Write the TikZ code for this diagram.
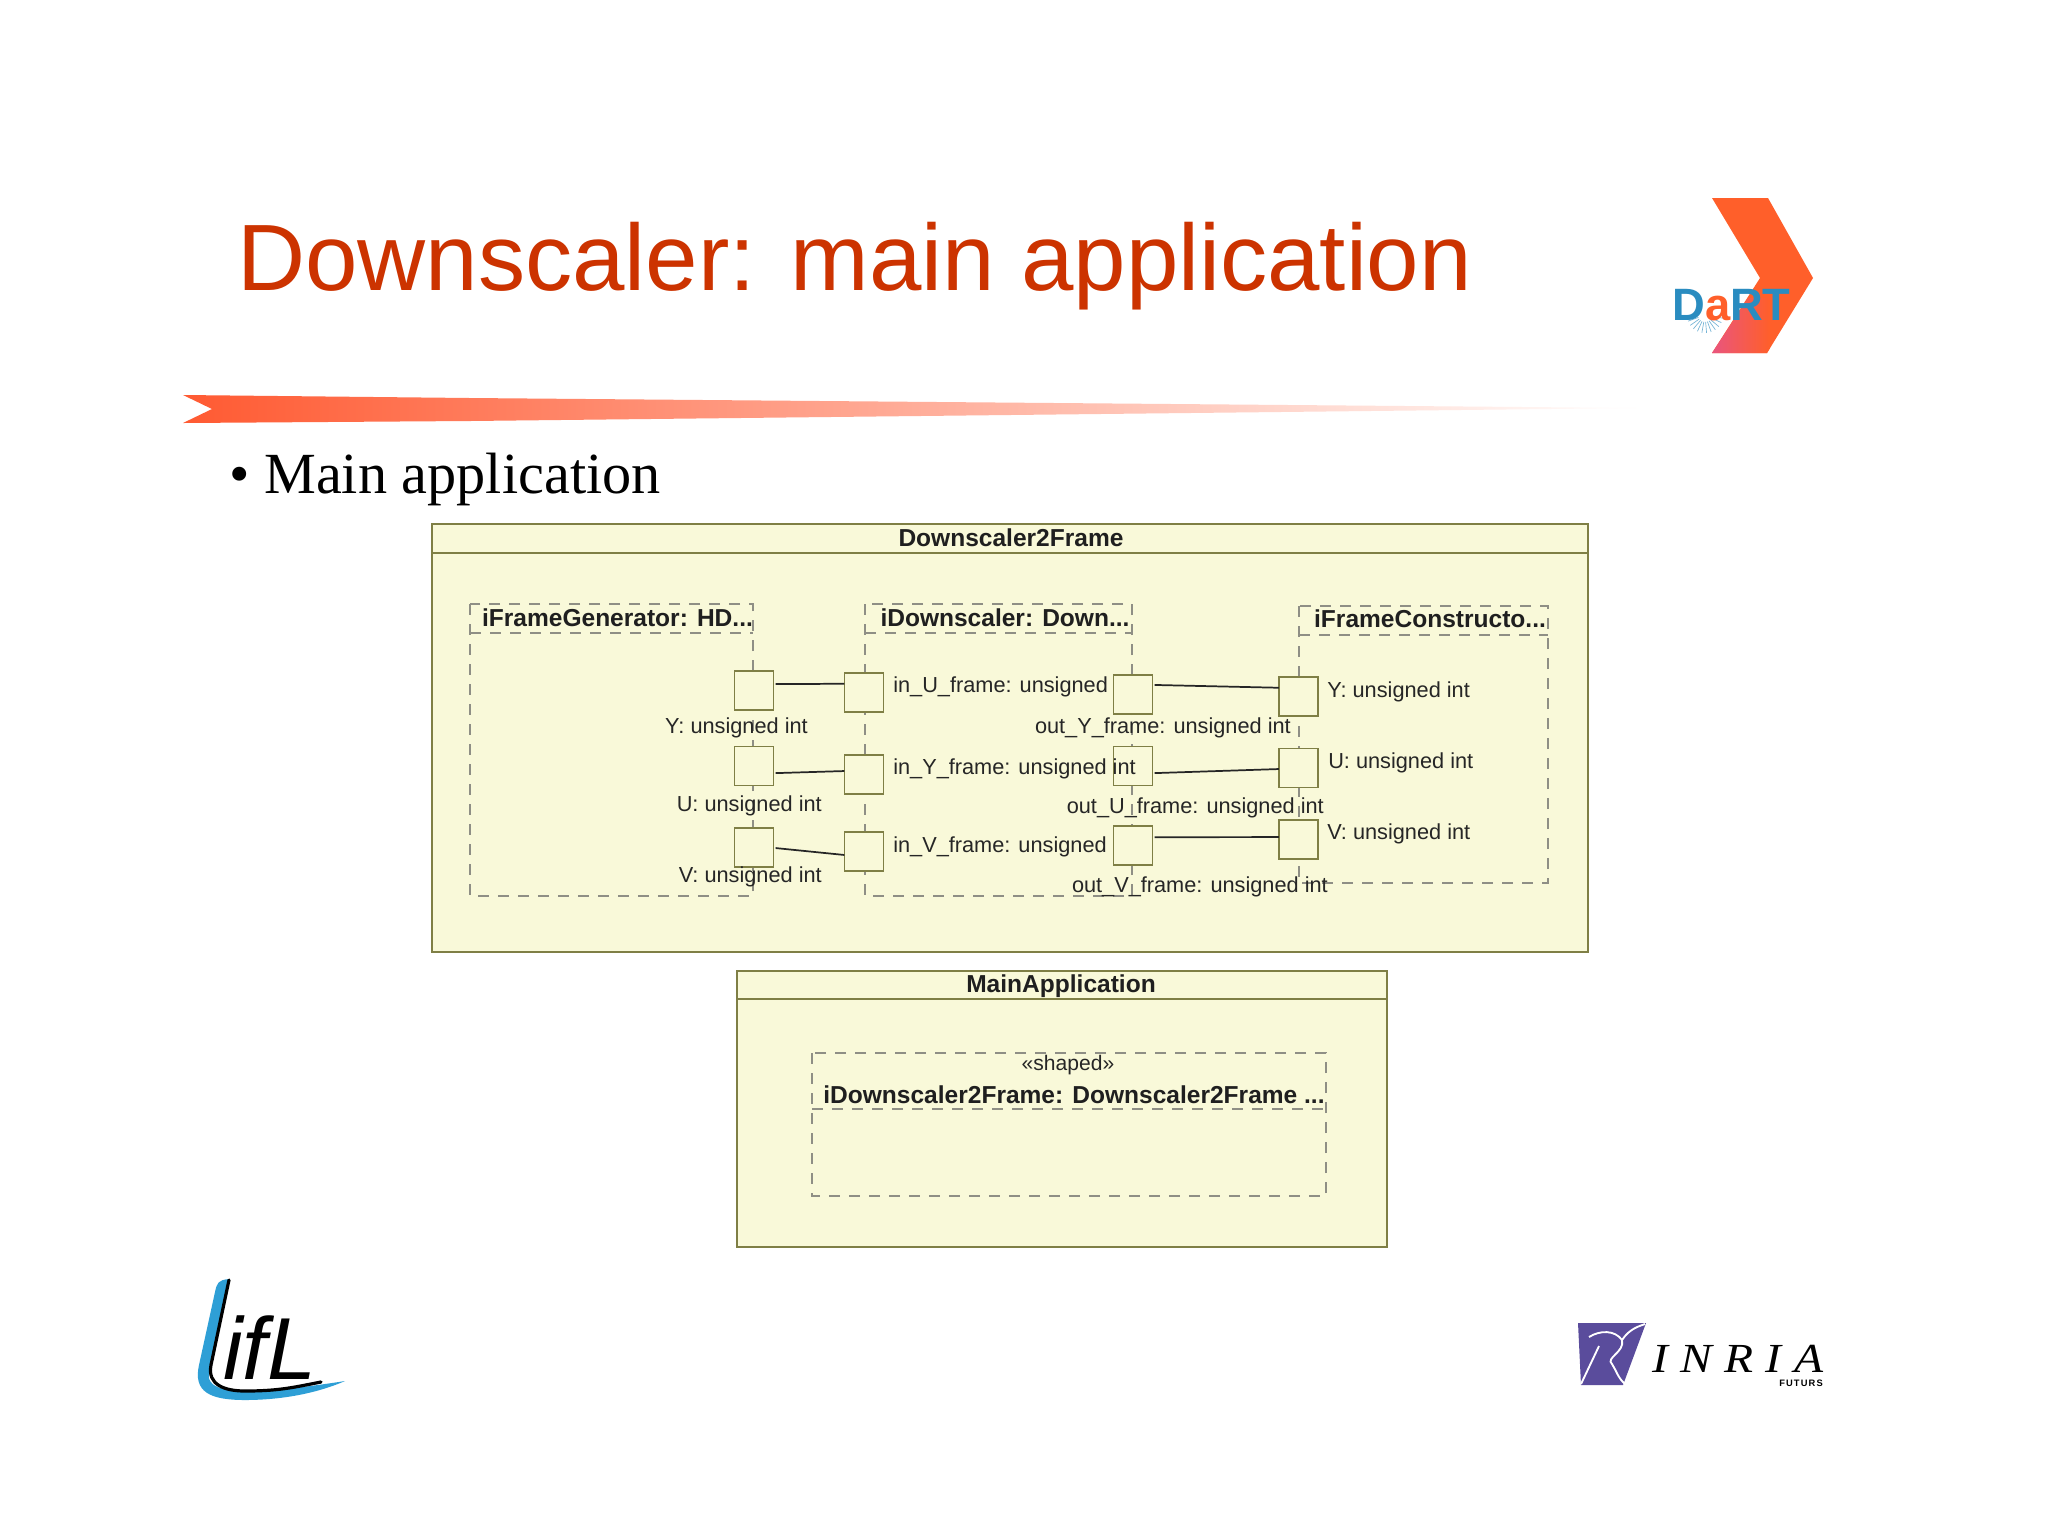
\documentclass[tikz,border=0pt]{standalone}
\usepackage{fontspec}
\setmainfont{Liberation Sans}
\newfontfamily\serifface{Liberation Serif}
\newfontfamily\inriaface[LetterSpace=26]{Liberation Serif}
\newfontfamily\futursface[LetterSpace=12]{Liberation Sans}
\usetikzlibrary{calc}
\definecolor{umlfill}{HTML}{F9F9D9}
\definecolor{umlline}{HTML}{7F7F45}
\definecolor{dashgrey}{HTML}{8F8F85}
\definecolor{titlered}{HTML}{CC3300}
\definecolor{swoosh}{HTML}{FF5A32}
\definecolor{dartblue}{HTML}{2A8CC0}
\definecolor{dartorange}{HTML}{FF5F2A}
\definecolor{dartpink}{HTML}{E9557F}
\definecolor{liflblue}{HTML}{2E9FD6}
\definecolor{inriapurple}{HTML}{5A4C9C}
\tikzset{
  umlbox/.style={draw=umlline,fill=umlfill,line width=1.7pt},
  umlrule/.style={draw=umlline,line width=1.3pt},
  partbox/.style={draw=dashgrey,line width=0.9pt,dash pattern=on 8pt off 7pt},
  portbox/.style={draw=umlline,fill=umlfill,line width=1.2pt,minimum width=29.5pt,minimum height=29.5pt,inner sep=0pt,outer sep=0pt},
  wire/.style={draw=black!85,line width=1.3pt,shorten <=1.5pt},
  portlabel/.style={font=\fontsize{16.3pt}{18pt}\selectfont,text=black!85,inner sep=0pt},
  boldlabel/.style={font=\fontsize{18.4pt}{20pt}\selectfont\bfseries,text=black!88,inner sep=0pt},
}
\begin{document}
\begin{tikzpicture}[x=0.75pt,y=-0.75pt]
\useasboundingbox (0,0) rectangle (2048,1536);
\fill[white] (0,0) rectangle (2048,1536);

% title
\node[anchor=base west,inner sep=0pt,text=titlered,font=\fontsize{70.7pt}{78pt}\selectfont] (title) at (237,290) {Downscaler: main application};
% swoosh bar
\shade[left color=swoosh,right color=white,middle color=swoosh!50] (183,395) -- (470,398) -- (1640,408) -- (470,421) -- (183,423) -- (212,409) -- cycle;
% bullet
\node[anchor=base west,inner sep=0pt,font=\fontsize{43.7pt}{50pt}\selectfont\serifface,text=black] (bullet) at (229,493) {• Main application};

% Downscaler2Frame
\draw[umlbox] (432,524) rectangle (1588,952);
\draw[umlrule] (432,553) -- (1588,553);
\node[boldlabel] (dfTitle) at (1011,537.5) {Downscaler2Frame};

% parts
\draw[partbox] (470,604) rectangle (753,896);
\draw[partbox] (470,633) -- (753,633);
\draw[partbox] (865,604) rectangle (1132,896);
\draw[partbox] (865,633) -- (1132,633);
\draw[partbox] (1299,606) rectangle (1548,883);
\draw[partbox] (1299,635) -- (1548,635);
\node[boldlabel] (genTitle) at (617.5,617.5) {iFrameGenerator: HD...};
\node[boldlabel] (downTitle) at (1005,617.5) {iDownscaler: Down...};
\node[boldlabel] (conTitle) at (1430,619) {iFrameConstructo...};

% ports
\node[portbox] (gy) at (754,690.5) {};
\node[portbox] (gu) at (754,766) {};
\node[portbox] (gv) at (754,847.5) {};
\node[portbox] (diu) at (864,692.5) {};
\node[portbox] (diy) at (864,774.5) {};
\node[portbox] (div) at (864,851.5) {};
\node[portbox] (doy) at (1133,694.5) {};
\node[portbox] (dou) at (1133,766) {};
\node[portbox] (dov) at (1133,845.5) {};
\node[portbox] (cy) at (1298.5,696.5) {};
\node[portbox] (cu) at (1298.5,768) {};
\node[portbox] (cv) at (1298.5,839.5) {};

% connectors
\draw[wire] (gy.18) -- (diu.156.5);
\draw[wire] (gu.-20) -- (diy.170);
\draw[wire] (gv.-1) -- (div.190);
\draw[wire] (doy.26) -- (cy.156.5);
\draw[wire] (dou.-20) -- (cu.183);
\draw[wire] (dov.23.5) -- (cv.173);

% port labels
\node[portlabel,anchor=east] (lgy) at (808,727.5) {Y: unsigned int};
\node[portlabel,anchor=east] (lgu) at (822,805.5) {U: unsigned int};
\node[portlabel,anchor=east] (lgv) at (822,876.5) {V: unsigned int};
\node[portlabel,anchor=west] (ldiu) at (893,686.5) {in\_U\_frame: unsigned};
\node[portlabel,anchor=west] (ldiy) at (893,768.5) {in\_Y\_frame: unsigned int};
\node[portlabel,anchor=west] (ldiv) at (893,846.5) {in\_V\_frame: unsigned};
\node[portlabel,anchor=east] (ldoy) at (1291,727.5) {out\_Y\_frame: unsigned int};
\node[portlabel,anchor=east] (ldou) at (1324,807.5) {out\_U\_frame: unsigned int};
\node[portlabel,anchor=east] (ldov) at (1328,886.5) {out\_V\_frame: unsigned int};
\node[portlabel,anchor=west] (lcy) at (1327,691.5) {Y: unsigned int};
\node[portlabel,anchor=west] (lcu) at (1328,762.5) {U: unsigned int};
\node[portlabel,anchor=west] (lcv) at (1327,833.5) {V: unsigned int};

% MainApplication
\draw[umlbox] (737,971) rectangle (1387,1247);
\draw[umlrule] (737,999) -- (1387,999);
\node[boldlabel] (maTitle) at (1061,986) {MainApplication};
\draw[partbox] (812,1053) rectangle (1326,1196);
\draw[partbox] (812,1109) -- (1326,1109);
\node[portlabel,font=\fontsize{15.8pt}{17pt}\selectfont] (shaped) at (1068,1065) {«shaped»};
\node[boldlabel] (idf) at (1074,1095) {iDownscaler2Frame: Downscaler2Frame ...};

% DaRT logo
\fill[dartorange] (1712,198) -- (1768,198) -- (1813,278) -- (1767,353) -- (1712,353) -- (1760,278) -- cycle;
\begin{scope}
\clip (1712,353) -- (1767,353) -- (1800,298) -- (1748,298) -- cycle;
\shade[left color=dartpink,right color=dartorange] (1712,298) rectangle (1770,353);
\end{scope}
\foreach \a in {10,25,...,170}{
  \draw[dartblue!65,line width=0.5pt] ($(1705,315)+(\a:7)$) -- ($(1705,315)+(\a:18)$);
}
\node[anchor=base west,inner sep=0pt,font=\fontsize{34pt}{35pt}\selectfont\bfseries] (dart) at (1672,320) {\textcolor{dartblue}{D}\textcolor{dartorange}{a}\textcolor{dartblue}{RT}};

% LIFL logo
\fill[liflblue] (229,1279) .. controls (218,1280) and (217,1283) .. (215,1292) -- (199,1365) .. controls (193,1392) and (210,1400) .. (245,1400) .. controls (285,1400) and (320,1392) .. (345,1381) .. controls (320,1385) and (270,1392) .. (240,1391) .. controls (214,1390) and (205,1382) .. (210,1370) -- cycle;
\draw[black,line width=2.4pt,line cap=round] (229,1280) -- (211,1365) .. controls (207,1385) and (225,1391) .. (245,1391) .. controls (280,1391) and (295,1387) .. (321,1382);
\node[anchor=base west,inner sep=0pt,font=\fontsize{66pt}{70pt}\selectfont\itshape,text=black] (lifl) at (223,1379) {ifL};

% INRIA logo
\fill[inriapurple] (1578,1323) -- (1646,1323) -- (1623,1385) -- (1581,1385) -- cycle;
\draw[white,line width=1.4pt] (1589,1337) .. controls (1600,1330) and (1615,1330) .. (1622,1340) .. controls (1630,1328) and (1640,1326) .. (1645,1324);
\draw[white,line width=1.4pt] (1622,1340) .. controls (1625,1352) and (1605,1358) .. (1612,1364) .. controls (1616,1370) and (1618,1378) .. (1625,1384);
\draw[white,line width=1.4pt] (1599,1346) -- (1581,1384);
\node[anchor=base west,inner sep=0pt,xscale=1.15,font=\fontsize{31pt}{32pt}\selectfont\inriaface\itshape,text=black] (inria) at (1652,1372) {INRIA};
\node[anchor=base east,inner sep=0pt,font=\fontsize{7pt}{8pt}\selectfont\futursface\bfseries,text=black] (futurs) at (1823,1386) {FUTURS};
\end{tikzpicture}
\end{document}
